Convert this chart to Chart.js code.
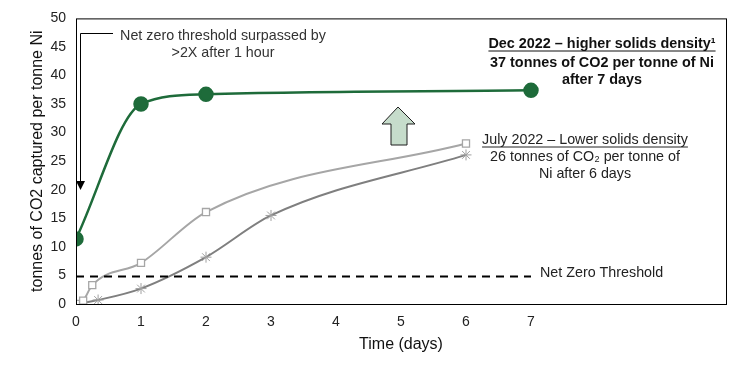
<!DOCTYPE html>
<html>
<head>
<meta charset="utf-8">
<script src="https://cdn.jsdelivr.net/npm/chart.js@4/dist/chart.umd.min.js"></script>
<style>
  html, body { margin: 0; padding: 0; background: #fff; }
  #wrap { width: 741px; height: 368px; }
</style>
</head>
<body>
<div id="wrap"><canvas id="myChart" width="741" height="368"></canvas></div>
<script>
// data
const decDays = [0, 1, 2, 7];
const decValues = [11.4, 35, 36.7, 37.4];

const julySqDays = [0, 0.11, 0.25, 1, 2, 6];
const julySqValues = [0, 0.6, 3.3, 7.2, 16.1, 28.1];

const julyStarDays = [0, 0.34, 1, 2, 3, 6];
const julyStarValues = [0, 0.7, 2.7, 8.2, 15.5, 26.1];

const thresholdDays = [0, 7];
const thresholdValues = [4.8, 4.8];

const xTickMax = 7;

const pts = (xs, ys) => xs.map((x, i) => ({ x: x, y: ys[i] }));

const FONT = 'Arial, "Liberation Sans", sans-serif';

// box around plot + notes and arrows
const extras = {
  id: 'extras',
  afterDraw(chart) {
    const c = chart.ctx;
    const a = chart.chartArea;
    c.save();
    c.strokeStyle = '#000';
    c.lineWidth = 1;
    c.strokeRect(a.left + 0.5, a.top + 0.5, a.right - a.left, a.bottom - a.top);

    // elbow arrow
    c.beginPath();
    c.moveTo(113, 33.5);
    c.lineTo(80.5, 33.5);
    c.lineTo(80.5, 182);
    c.stroke();
    c.fillStyle = '#000';
    c.beginPath();
    c.moveTo(76, 181);
    c.lineTo(85, 181);
    c.lineTo(80.5, 190);
    c.closePath();
    c.fill();

    // block arrow
    c.beginPath();
    c.moveTo(398, 107);
    c.lineTo(415, 124);
    c.lineTo(407, 124);
    c.lineTo(407, 145);
    c.lineTo(391, 145);
    c.lineTo(391, 124);
    c.lineTo(382, 124);
    c.closePath();
    c.fillStyle = '#c6dccb';
    c.fill();
    c.strokeStyle = '#1f1f1f';
    c.stroke();

    const line = (txt, x, y, font, color, align, underline) => {
      c.font = font;
      c.fillStyle = color;
      c.textAlign = align;
      c.textBaseline = 'middle';
      c.fillText(txt, x, y);
      if (underline) {
        const w = c.measureText(txt).width;
        const x0 = align === 'center' ? x - w / 2 : x;
        c.strokeStyle = color;
        c.lineWidth = 1;
        c.beginPath();
        c.moveTo(x0, y + 7);
        c.lineTo(x0 + w, y + 7);
        c.stroke();
      }
    };

    const n = '14.3px ' + FONT;
    const b = 'bold 14.4px ' + FONT;
    line('Net zero threshold surpassed by', 223, 36, n, '#333', 'center');
    line('>2X after 1 hour', 223, 53, n, '#333', 'center');

    line('Dec 2022 \u2013 higher solids density\u00b9', 602, 44, b, '#111', 'center', true);
    line('37 tonnes of CO2 per tonne of Ni', 602, 63, b, '#111', 'center');
    line('after 7 days', 602, 80, b, '#111', 'center');

    line('July 2022 \u2013 Lower solids density', 585, 140, n, '#222', 'center', true);
    line('26 tonnes of CO\u2082 per tonne of', 585, 157, n, '#222', 'center');
    line('Ni after 6 days', 585, 174, n, '#222', 'center');

    line('Net Zero Threshold', 540, 273, n, '#222', 'left');
    c.restore();
  }
};

let ctx = document.getElementById('myChart').getContext('2d');

const myChart = new Chart(ctx, {
  type: 'scatter',
  data: {
    datasets: [
      {
        label: 'Net Zero Threshold',
        data: pts(thresholdDays, thresholdValues),
        showLine: true,
        borderColor: '#000',
        borderWidth: 2,
        borderDash: [8, 6],
        pointRadius: 0
      },
      {
        label: 'July 2022 (squares)',
        data: pts(julySqDays, julySqValues),
        showLine: true,
        cubicInterpolationMode: 'monotone',
        borderColor: '#a6a6a6',
        borderWidth: 2,
        pointStyle: 'rect',
        pointRadius: 5,
        pointBorderWidth: 1.3,
        pointBackgroundColor: '#fff',
        pointBorderColor: '#a6a6a6'
      },
      {
        label: 'July 2022 (stars)',
        data: pts(julyStarDays, julyStarValues),
        showLine: true,
        cubicInterpolationMode: 'monotone',
        borderColor: '#7f7f7f',
        borderWidth: 2,
        pointStyle: 'star',
        pointRadius: 5.5,
        pointBorderWidth: 1,
        pointBorderColor: '#a0a0a0'
      },
      {
        label: 'Dec 2022',
        data: pts(decDays, decValues),
        showLine: true,
        cubicInterpolationMode: 'monotone',
        borderColor: '#1e6b3a',
        borderWidth: 2.5,
        pointRadius: 6.5,
        pointBackgroundColor: '#1e6b3a',
        pointBorderColor: '#1e6b3a'
      }
    ]
  },
  options: {
    responsive: false,
    animation: false,
    layout: { padding: { left: 28, right: 15, top: 14, bottom: 14 } },
    plugins: {
      legend: { display: false },
      tooltip: { enabled: false }
    },
    scales: {
      x: {
        type: 'linear',
        min: 0,
        max: 10,
        afterBuildTicks: s => { s.ticks = s.ticks.filter(t => t.value <= xTickMax); },
        afterFit: s => { s.height = 50; },
        grid: { display: false, drawTicks: false },
        border: { display: false },
        ticks: { stepSize: 1, color: '#222', font: { family: FONT, size: 14 }, padding: 10 },
        title: { display: true, text: 'Time (days)', color: '#111', font: { family: FONT, size: 16 }, padding: 0 }
      },
      y: {
        min: 0,
        max: 50,
        afterFit: s => { s.width = 48; },
        grid: { display: false, drawTicks: false },
        border: { display: false },
        ticks: { stepSize: 5, color: '#222', font: { family: FONT, size: 14 }, padding: 10 },
        title: { display: true, text: 'tonnes of CO2 captured per tonne Ni', color: '#111', font: { family: FONT, size: 16 }, padding: 0 }
      }
    }
  },
  plugins: [extras]
});
</script>
</body>
</html>
